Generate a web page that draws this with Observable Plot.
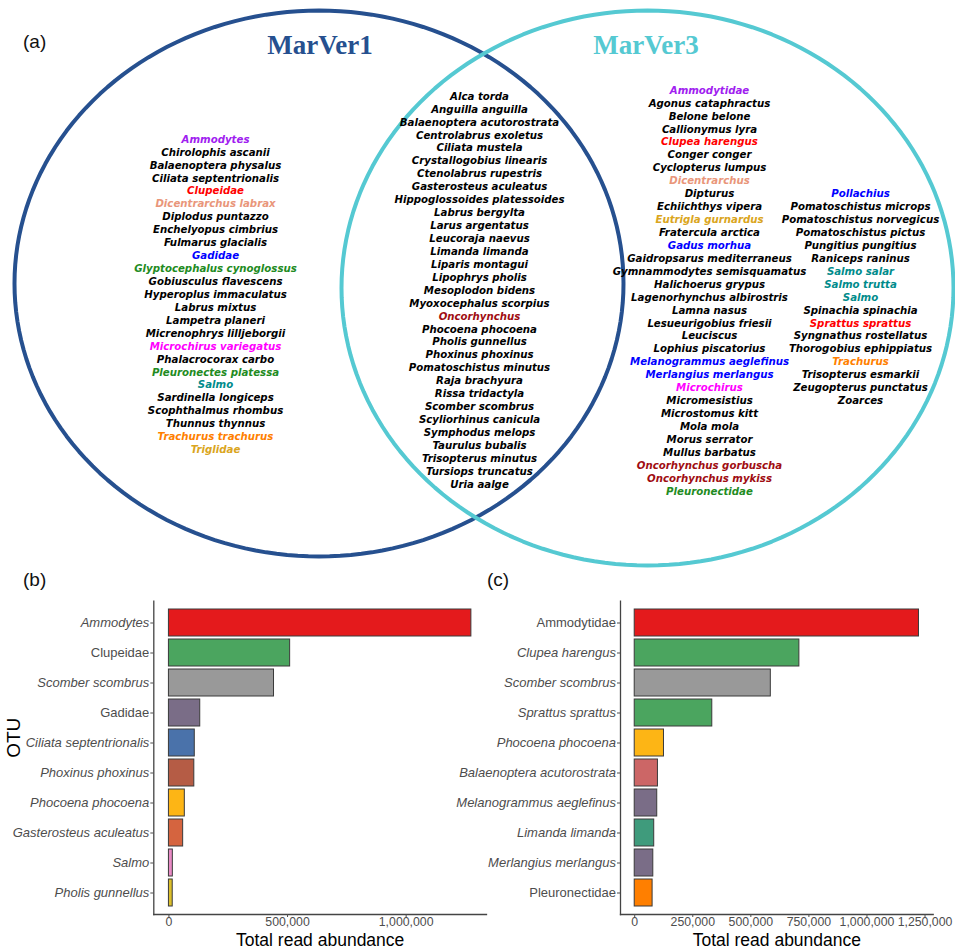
<!DOCTYPE html>
<html><head><meta charset="utf-8">
<script src="https://cdn.jsdelivr.net/npm/d3@7"></script>
<script src="https://cdn.jsdelivr.net/npm/@observablehq/plot@0.6"></script>
<style>
body{margin:0;background:#fff;}
#root{position:relative;width:955px;height:951px;overflow:hidden;font-family:"Liberation Sans",Arial,sans-serif;}
#root > div{position:absolute;}
.panel{font-size:19px;line-height:19px;color:#111;}
</style></head><body><div id="root"></div>
<script>
// ---------------- DATA ----------------
const setNames = ["MarVer1", "MarVer3"];
const onlyMarVer1 = ["Ammodytes","Chirolophis ascanii","Balaenoptera physalus","Ciliata septentrionalis","Clupeidae","Dicentrarchus labrax","Diplodus puntazzo","Enchelyopus cimbrius","Fulmarus glacialis","Gadidae","Glyptocephalus cynoglossus","Gobiusculus flavescens","Hyperoplus immaculatus","Labrus mixtus","Lampetra planeri","Micrenophrys lilljeborgii","Microchirus variegatus","Phalacrocorax carbo","Pleuronectes platessa","Salmo","Sardinella longiceps","Scophthalmus rhombus","Thunnus thynnus","Trachurus trachurus","Triglidae"];
const shared = ["Alca torda","Anguilla anguilla","Balaenoptera acutorostrata","Centrolabrus exoletus","Ciliata mustela","Crystallogobius linearis","Ctenolabrus rupestris","Gasterosteus aculeatus","Hippoglossoides platessoides","Labrus bergylta","Larus argentatus","Leucoraja naevus","Limanda limanda","Liparis montagui","Lipophrys pholis","Mesoplodon bidens","Myoxocephalus scorpius","Oncorhynchus","Phocoena phocoena","Pholis gunnellus","Phoxinus phoxinus","Pomatoschistus minutus","Raja brachyura","Rissa tridactyla","Scomber scombrus","Scyliorhinus canicula","Symphodus melops","Taurulus bubalis","Trisopterus minutus","Tursiops truncatus","Uria aalge"];
const onlyMarVer3 = ["Ammodytidae","Agonus cataphractus","Belone belone","Callionymus lyra","Clupea harengus","Conger conger","Cyclopterus lumpus","Dicentrarchus","Dipturus","Echiichthys vipera","Eutrigla gurnardus","Fratercula arctica","Gadus morhua","Gaidropsarus mediterraneus","Gymnammodytes semisquamatus","Halichoerus grypus","Lagenorhynchus albirostris","Lamna nasus","Lesueurigobius friesii","Leuciscus","Lophius piscatorius","Melanogrammus aeglefinus","Merlangius merlangus","Microchirus","Micromesistius","Microstomus kitt","Mola mola","Morus serrator","Mullus barbatus","Oncorhynchus gorbuscha","Oncorhynchus mykiss","Pleuronectidae","Pollachius","Pomatoschistus microps","Pomatoschistus norvegicus","Pomatoschistus pictus","Pungitius pungitius","Raniceps raninus","Salmo salar","Salmo trutta","Salmo","Spinachia spinachia","Sprattus sprattus","Syngnathus rostellatus","Thorogobius ephippiatus","Trachurus","Trisopterus esmarkii","Zeugopterus punctatus","Zoarces"];

// taxa groups highlighted in the Venn lists
const sandeels = ["Ammodytes","Ammodytidae"];
const clupeids = ["Clupeidae","Clupea harengus","Sprattus sprattus"];
const seabass = ["Dicentrarchus labrax","Dicentrarchus"];
const gadids = ["Gadidae","Gadus morhua","Melanogrammus aeglefinus","Merlangius merlangus","Pollachius"];
const flatfish = ["Glyptocephalus cynoglossus","Pleuronectes platessa","Pleuronectidae"];
const soles = ["Microchirus variegatus","Microchirus"];
const salmonids = ["Salmo","Salmo salar","Salmo trutta"];
const scads = ["Trachurus trachurus","Trachurus"];
const gurnards = ["Triglidae","Eutrigla gurnardus"];
const trouts = ["Oncorhynchus","Oncorhynchus gorbuscha","Oncorhynchus mykiss"];

// bar chart (b) MarVer1
const otuB = ["Ammodytes","Clupeidae","Scomber scombrus","Gadidae","Ciliata septentrionalis","Phoxinus phoxinus","Phocoena phocoena","Gasterosteus aculeatus","Salmo","Pholis gunnellus"];
const readsB = [1275000, 511000, 443000, 132000, 109000, 107000, 67000, 60000, 16500, 16000];
// bar chart (c) MarVer3
const otuC = ["Ammodytidae","Clupea harengus","Scomber scombrus","Sprattus sprattus","Phocoena phocoena","Balaenoptera acutorostrata","Melanogrammus aeglefinus","Limanda limanda","Merlangius merlangus","Pleuronectidae"];
const readsC = [1224000, 709000, 586000, 334000, 126000, 100000, 97000, 84000, 80000, 77000];
const familyLevel = ["Clupeidae","Gadidae","Ammodytidae","Pleuronectidae"];
const ticksB = [0, 500000, 1000000];
const ticksC = [0, 250000, 500000, 750000, 1000000, 1250000];

// ---------------- STYLE ----------------
const blue = "#26508f", cyan = "#55c9d2";
const groupColors = [
  [sandeels, "#a020f0"], [clupeids, "#ff0000"], [seabass, "#e9967a"], [gadids, "#0000ff"],
  [flatfish, "#228b22"], [soles, "#ff00ff"], [salmonids, "#008b8b"], [scads, "#ff7f00"],
  [gurnards, "#daa520"], [trouts, "#a00d12"]
];
function taxonColor(name) {
  for (const [g, c] of groupColors) if (g.includes(name)) return c;
  return "#000";
}
const barFillB = ["#e41a1c","#4ba55f","#999999","#7a6d87","#4a72aa","#b55c45","#fdb515","#d5643f","#e98ac5","#dcbf2a"];
const barFillC = ["#e41a1c","#4ba55f","#999999","#4ba55f","#fdb515","#cc6666","#7a6d87","#3f9b7c","#7a6d87","#ff7f00"];

// ---------------- LAYOUT ----------------
const W = 955;
const ell = [{cx: 318.5, cy: 283, rx: 304.5, ry: 273, color: blue}, {cx: 647, cy: 287.5, rx: 306, ry: 277.5, color: cyan}];
const titlePos = [{x: 319.5, y: 45}, {x: 645.5, y: 45}];
const lineH = 12.93;
const listFont = 10.2;
const col3Split = 32;
const columns = [
  {names: onlyMarVer1, x: 215, y0: 139},
  {names: shared, x: 479, y0: 96},
  {names: onlyMarVer3.slice(0, col3Split), x: 709, y0: 90},
  {names: onlyMarVer3.slice(col3Split), x: 860, y0: 90 + 8 * lineH}
];

const root = document.getElementById("root");

// ---------- Venn ----------
const ellPts = ell.map((e, k) => d3.range(0, 361, 2).map(a => ({
  set: k, x: e.cx + e.rx * Math.cos(a * Math.PI / 180), y: e.cy + e.ry * Math.sin(a * Math.PI / 180)
})));
const rows = columns.flatMap(c => c.names.map((n, i) => ({name: n, x: c.x, y: c.y0 + i * lineH, color: taxonColor(n)})));
const titles = setNames.map((n, i) => ({name: n, x: titlePos[i].x, y: titlePos[i].y, color: ell[i].color}));

const venn = Plot.plot({
  width: W, height: 570, margin: 0,
  x: {type: "identity", axis: null}, y: {type: "identity", axis: null},
  color: {type: "identity"},
  style: {background: "transparent", overflow: "visible"},
  marks: [
    Plot.line(ellPts[0], {x: "x", y: "y", stroke: blue, strokeWidth: 4}),
    Plot.line(ellPts[1], {x: "x", y: "y", stroke: cyan, strokeWidth: 4}),
    Plot.text(titles, {x: "x", y: "y", text: "name", fill: "color", fontSize: 27, fontWeight: "bold", fontFamily: "Liberation Serif, Times New Roman, serif"}),
    Plot.text(rows, {x: "x", y: "y", text: "name", fill: "color", fontSize: listFont, fontWeight: "bold", fontStyle: "italic", fontFamily: "DejaVu Sans, Verdana, sans-serif"})
  ]
});
const vdiv = document.createElement("div");
vdiv.style.left = "0px"; vdiv.style.top = "0px";
vdiv.appendChild(venn);
root.appendChild(vdiv);

// ---------- Bars ----------
function bars(otu, reads, fills, ticks, box) {
  const data = otu.map((o, i) => ({otu: o, reads: reads[i], fill: fills[i]}));
  const max = d3.max(reads);
  const italic = otu.filter(o => !familyLevel.includes(o));
  const plain = otu.filter(o => familyLevel.includes(o));
  const axisOpts = {tickSize: 3, tickPadding: 1.5, fontSize: 13, color: "#4d4d4d", label: null, fontFamily: "Liberation Sans, Arial, sans-serif"};
  const marks = [
    Plot.barX(data, {x: "reads", y: "otu", fill: "fill", stroke: "#3a3a3a", strokeWidth: 1}),
    Plot.frame({anchor: "left", stroke: "#444", strokeWidth: 1.3}),
    Plot.frame({anchor: "bottom", stroke: "#444", strokeWidth: 1.3}),
    Plot.axisX(ticks, {...axisOpts, fontSize: 12.3, tickFormat: d3.format(","), tickPadding: 0}),
    Plot.axisY(italic, {...axisOpts, fontStyle: "italic"}),
    Plot.axisY(plain, {...axisOpts}),
    Plot.text(["Total read abundance"], {frameAnchor: "bottom", dy: 31, fontSize: 17.5, fill: "#000"})
  ];
  if (box.ylabel) marks.push(Plot.text([box.ylabel], {frameAnchor: "left", dx: box.ylabelDx, rotate: -90, fontSize: 19, fill: "#000"}));
  const p = Plot.plot({
    width: box.w, height: box.h,
    marginLeft: box.ml, marginRight: box.mr, marginTop: box.mt, marginBottom: box.mb,
    x: {domain: [-0.05 * max, 1.05 * max]},
    y: {domain: otu, paddingInner: 0.1, paddingOuter: 0.15},
    color: {type: "identity"},
    style: {background: "transparent", overflow: "visible", fontFamily: "Liberation Sans, Arial, sans-serif"},
    marks
  });
  const d = document.createElement("div");
  d.style.left = box.left + "px"; d.style.top = box.top + "px";
  d.appendChild(p);
  root.appendChild(d);
}
bars(otuB, readsB, barFillB, ticksB, {left: 0, top: 590, w: 490, h: 361, ml: 153.3, mr: 4, mt: 10.7, mb: 37, ylabel: "OTU", ylabelDx: -140});
bars(otuC, readsC, barFillC, ticksC, {left: 490, top: 590, w: 465, h: 361, ml: 130, mr: 22.3, mt: 10.7, mb: 37});

// ---------- panel tags ----------
[["(a)", 23, 32], ["(b)", 23, 569.5], ["(c)", 487, 570]].forEach(([t, x, y]) => {
  const d = document.createElement("div");
  d.className = "panel"; d.textContent = t;
  d.style.left = x + "px"; d.style.top = y + "px";
  root.appendChild(d);
});
</script>
</body></html>
